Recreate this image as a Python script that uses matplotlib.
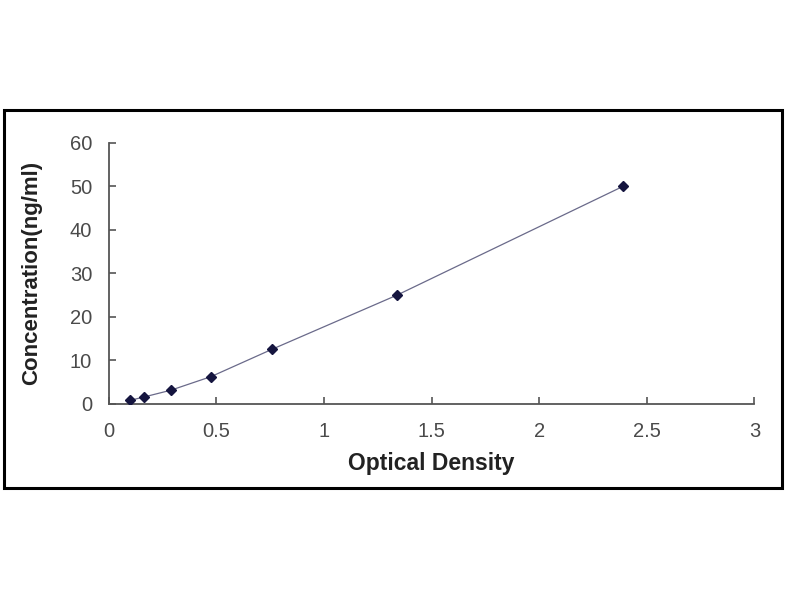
import matplotlib
matplotlib.use("Agg")
import matplotlib.pyplot as plt
from matplotlib.patches import Rectangle

# Standard curve readings
optical_density = [0.098, 0.163, 0.288, 0.475, 0.757, 1.34, 2.39]
concentration = [0.78, 1.56, 3.12, 6.25, 12.5, 25, 50]

x_ticks = [0, 0.5, 1, 1.5, 2, 2.5, 3]
x_tick_labels = ["0", "0.5", "1", "1.5", "2", "2.5", "3"]
y_ticks = [0, 10, 20, 30, 40, 50, 60]

plt.rcParams["font.family"] = ["Liberation Sans", "DejaVu Sans"]

fig = plt.figure(figsize=(8, 6), dpi=100)
ax = fig.add_axes([0.136, 0.327, 0.807, 0.435])

# black frame around the chart region
fig.patches.append(Rectangle((0.005, 0.187), 0.973, 0.630, transform=fig.transFigure,
                             fill=False, edgecolor="black", linewidth=2.2))

ax.plot(optical_density, concentration, color="#6a6a8a", linewidth=0.9, zorder=3)
ax.plot(optical_density, concentration, linestyle="none", marker="D", markersize=5.5,
        color="#15153f", zorder=4)

ax.set_xlim(0, 3)
ax.set_ylim(0, 60)
ax.set_xticks(x_ticks)
ax.set_xticklabels(x_tick_labels)
ax.set_yticks(y_ticks)

for side in ["top", "right"]:
    ax.spines[side].set_visible(False)
for side in ["left", "bottom"]:
    ax.spines[side].set_color("#555555")
    ax.spines[side].set_linewidth(1.3)

ax.tick_params(direction="in", length=5, width=1.2, color="#555555",
               labelsize=14.5, labelcolor="#4a4a4a")
ax.tick_params(axis="x", pad=13)
ax.tick_params(axis="y", pad=12)

ax.set_xlabel("Optical Density", fontsize=16.5, fontweight="bold", color="#222222", labelpad=8)
ax.set_ylabel("Concentration(ng/ml)", fontsize=16, fontweight="bold", color="#222222", labelpad=20)

fig.savefig("out.png", dpi=100, facecolor="white")
